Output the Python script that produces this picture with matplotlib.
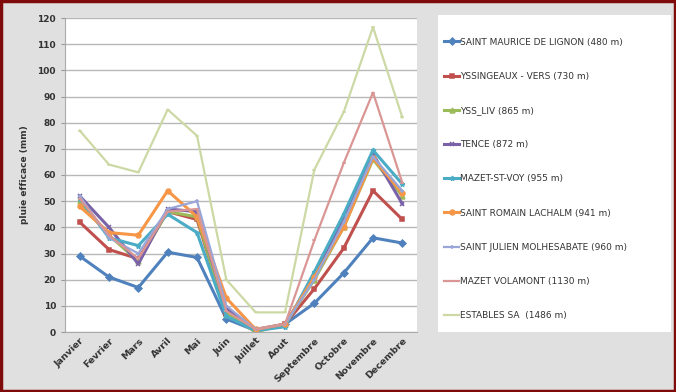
import matplotlib.pyplot as plt
from matplotlib.patches import Rectangle

months = ['Janvier', 'Fevrier', 'Mars', 'Avril', 'Mai', 'Juin', 'Juillet',
          'Aout', 'Septembre', 'Octobre', 'Novembre', 'Decembre']

stations = ['SAINT MAURICE DE LIGNON (480 m)', 'YSSINGEAUX - VERS (730 m)',
            'YSS_LIV (865 m)', 'TENCE (872 m)', 'MAZET-ST-VOY (955 m)',
            'SAINT ROMAIN LACHALM (941 m)', 'SAINT JULIEN MOLHESABATE (960 m)',
            'MAZET VOLAMONT (1130 m)', 'ESTABLES SA  (1486 m)']

st_maurice = [29, 21, 17, 30.5, 28.5, 5, 0.5, 3, 11, 22.5, 36, 34]
yssingeaux = [42, 31.5, 28, 46, 43, 7, 0.5, 3, 16.5, 32, 54, 43]
yss_liv = [50, 37, 27, 46, 44, 7, 0, 3, 20, 40, 66, 52]
tence = [52, 40, 26, 47, 46, 9, 1, 3, 21, 43, 68, 49]
mazet_st_voy = [51, 36, 33, 45, 38, 6, 0.5, 2, 23, 45, 69.5, 56.5]
st_romain = [48, 38, 37, 54, 44, 13, 1, 3, 21, 40, 66.5, 53]
st_julien = [52, 36, 30, 47, 50, 10, 1, 3, 20, 42, 67, 54]
mazet_volamont = [51, 37, 28, 46, 47, 8, 1, 3, 35, 64.5, 91.5, 57]
estables = [77, 64, 61, 85, 75, 20, 7.5, 7.5, 62, 84, 116.5, 82]

series = [st_maurice, yssingeaux, yss_liv, tence, mazet_st_voy,
          st_romain, st_julien, mazet_volamont, estables]

colors = ['#4f81bd', '#c0504d', '#9bbb59', '#7a62a8', '#4bacc6',
          '#f79646', '#9aa6d8', '#d99694', '#cdd9a5']
markers = ['D', 's', '^', 'x', '*', 'o', '+', '_', '_']
widths = [2.2, 2.2, 2.2, 2.2, 2.2, 2.2, 1.6, 1.6, 1.6]

fig = plt.figure(figsize=(6.76, 3.92), dpi=100, facecolor='#e0e0e0')
fig.patches.append(Rectangle((0.002, 0.003), 0.996, 0.994, transform=fig.transFigure,
                             fill=False, edgecolor='#7f0a0a', linewidth=2.5))

ax = fig.add_axes([65 / 676, 60 / 392, 352 / 676, 314 / 392])
ax.set_facecolor('white')

x = list(range(len(months)))
for vals, c, m, lw in zip(series, colors, markers, widths):
    ax.plot(x, vals, color=c, marker=m, markersize=3.5, linewidth=lw,
            markeredgewidth=1.1)

ax.set_xlim(-0.5, 11.5)
ax.set_ylim(0, 120)
ax.set_yticks(range(0, 121, 10))
ax.set_xticks(x)
ax.set_xticklabels(months, rotation=45, ha='right', rotation_mode='anchor',
                   fontsize=6.8, fontweight='bold', color='#333333')
ax.tick_params(axis='y', labelsize=6.5, length=3, color='#999999', labelcolor='#333333')
for t in ax.get_yticklabels():
    t.set_fontweight('bold')
ax.tick_params(axis='x', length=0, pad=3)
ax.yaxis.grid(True, color='#b8b8b8', linewidth=1)
ax.set_axisbelow(True)
for s in ['top', 'right']:
    ax.spines[s].set_visible(False)
ax.spines['left'].set_color('#aaaaaa')
ax.spines['bottom'].set_color('#aaaaaa')
ax.set_ylabel('pluie efficace (mm)', fontsize=6.5, fontweight='bold', color='#333333',
              labelpad=6)

# legend panel
lax = fig.add_axes([438 / 676, 60 / 392, 233 / 676, 317 / 392])
lax.set_facecolor('white')
lax.set_xticks([])
lax.set_yticks([])
for s in lax.spines.values():
    s.set_visible(False)
handles = ax.get_lines()
lax.legend(handles, stations, loc='center left', bbox_to_anchor=(0, 0.483),
           frameon=False, fontsize=6.5, labelspacing=2.79, handlelength=1.6,
           handletextpad=0.1, borderaxespad=0.3, labelcolor='#333333')

fig.savefig('out.png', dpi=100, facecolor=fig.get_facecolor())
